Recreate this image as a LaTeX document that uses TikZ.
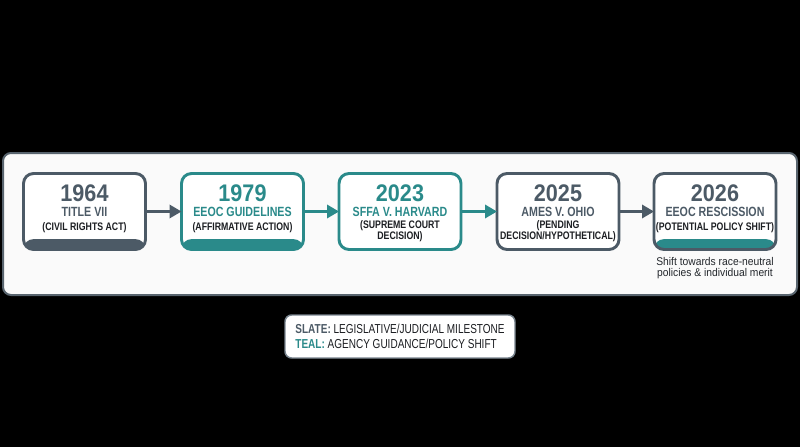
\documentclass[tikz,border=0pt]{standalone}
\usepackage{fontspec}
\usepackage{tikz}
\usepackage{xcolor}
\usetikzlibrary{arrows.meta}
\setmainfont{Liberation Sans}
\newfontfamily\condfont[FakeStretch=0.8]{Liberation Sans}
\newfontfamily\legendfont[FakeStretch=0.77]{Liberation Sans}
\newfontfamily\yearfont[FakeStretch=0.9]{Liberation Sans}
\newfontfamily\notefont[FakeStretch=0.92]{Liberation Sans}
\definecolor{slate}{RGB}{76,90,102}
\definecolor{tealgreen}{RGB}{42,138,138}
\definecolor{inkdark}{RGB}{28,30,34}
\definecolor{panelgray}{RGB}{88,100,110}
\definecolor{legendgray}{RGB}{120,132,142}
\tikzset{every picture/.style={line width=0.75pt}}
\tikzset{
  evbox/.style={draw=#1, line width=2.2pt, fill=white, rounded corners=7.5pt,
    minimum width=91.5pt, minimum height=57pt, inner sep=0pt, outer sep=0pt},
  evband/.style={path picture={\fill[#1] ([yshift=7.8pt]path picture bounding box.south west)
    rectangle (path picture bounding box.south east);}},
  flowarrow/.style={draw=#1, line width=1.8pt, -{Triangle[length=9pt,width=10pt]}},
  yeartxt/.style={text=#1, inner sep=0pt, font=\yearfont\bfseries\fontsize{18}{18}\selectfont},
  titletxt/.style={text=#1, inner sep=0pt, font=\condfont\bfseries\fontsize{10}{10}\selectfont},
  subtxt/.style={text=inkdark, inner sep=0pt, align=center, font=\condfont\bfseries\fontsize{8.2}{8.25}\selectfont},
  notetxt/.style={text=inkdark!85!slate, inner sep=0pt, align=center, font=\notefont\fontsize{8.4}{8.3}\selectfont},
  legendbox/.style={draw=legendgray, line width=1.1pt, fill=white, rounded corners=5pt,
    align=left, minimum width=172.5pt, minimum height=32.25pt,
    text=inkdark, font=\legendfont\fontsize{9.75}{11.25}\selectfont}
}
\begin{document}
\begin{tikzpicture}[x=0.75pt,y=0.75pt,yscale=-1,xscale=1]
\useasboundingbox (0,0) rectangle (800,447);
\fill[black] (0,0) rectangle (800,447);

%Shape: Rectangle (panel)
\draw[draw=panelgray, fill=white!98!black, line width=1.5pt, rounded corners=6pt] (3,153) rectangle (797,295);

%Shape: Rectangle (events)
\node[evbox=slate, evband=slate] (b1) at (84.5,211.5) {};
\node[evbox=tealgreen, evband=tealgreen] (b2) at (242.5,211.5) {};
\node[evbox=tealgreen] (b3) at (400,211.5) {};
\node[evbox=slate] (b4) at (558,211.5) {};
\node[evbox=slate, evband=tealgreen] (b5) at (715,211.5) {};

%Straight Lines
\draw[flowarrow=slate] (b1) -- (b2);
\draw[flowarrow=tealgreen] (b2) -- (b3);
\draw[flowarrow=tealgreen] (b3) -- (b4);
\draw[flowarrow=slate] (b4) -- (b5);

% Text Node
\node[yeartxt=slate] (y1) at (84.5,193) {1964};
\node[titletxt=slate] (t1) at (84.5,212) {TITLE VII};
\node[subtxt] (s1) at (84.5,228) {(CIVIL RIGHTS ACT)};
% Text Node
\node[yeartxt=tealgreen] (y2) at (242.5,193) {1979};
\node[titletxt=tealgreen] (t2) at (242.5,212) {EEOC GUIDELINES};
\node[subtxt] (s2) at (242.5,228) {(AFFIRMATIVE ACTION)};
% Text Node
\node[yeartxt=tealgreen] (y3) at (400,193) {2023};
\node[titletxt=tealgreen] (t3) at (400,212) {SFFA V. HARVARD};
\node[subtxt] (s3) at (400,231.5) {(SUPREME COURT\\DECISION)};
% Text Node
\node[yeartxt=slate] (y4) at (558,193) {2025};
\node[titletxt=slate] (t4) at (558,212) {AMES V. OHIO};
\node[subtxt] (s4) at (558,231) {(PENDING\\DECISION/HYPOTHETICAL)};
% Text Node
\node[yeartxt=slate] (y5) at (715,193) {2026};
\node[titletxt=slate] (t5) at (715,212) {EEOC RESCISSION};
\node[subtxt] (s5) at (715,228) {(POTENTIAL POLICY SHIFT)};
% Text Node
\node[notetxt] (n5) at (715,268.5) {Shift towards race-neutral\\policies \& individual merit};

%Shape: Rectangle (legend)
\node[legendbox] (lg) at (400,336.5) {\textcolor{slate}{\bfseries SLATE:} LEGISLATIVE/JUDICIAL MILESTONE\\
  \textcolor{tealgreen}{\bfseries TEAL:} AGENCY GUIDANCE/POLICY SHIFT};

\end{tikzpicture}
\end{document}
